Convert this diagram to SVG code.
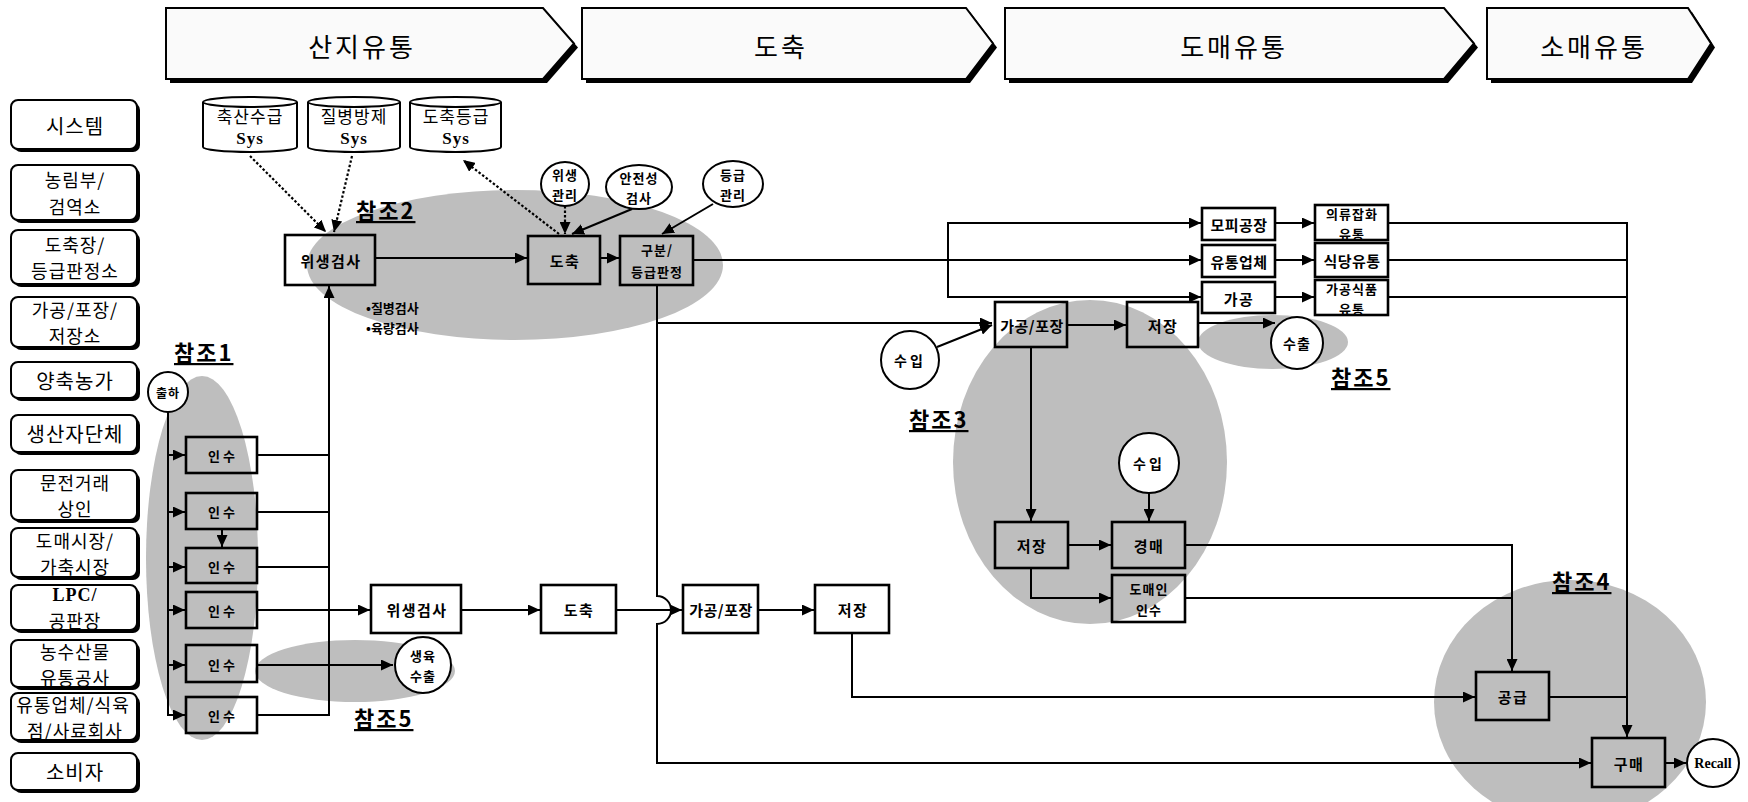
<svg xmlns="http://www.w3.org/2000/svg" width="1748" height="802" viewBox="0 0 1748 802">
<style>
text{font-family:"Noto Sans CJK KR","Noto Sans",sans-serif;text-anchor:middle;dominant-baseline:central;fill:#000}
.chev{fill:#fafafa;stroke:#000;stroke-width:2}
.shd{fill:#000}
.htx{font-size:26px;letter-spacing:3px}
.lbox{fill:#fff;stroke:#000;stroke-width:2}
.ltx{font-size:20px;letter-spacing:1px}
.l2{font-size:18px;letter-spacing:1px}
.ser{font-family:"Liberation Serif",serif;font-weight:bold}
.box{fill:none;stroke:#000;stroke-width:2.6}
.btx{font-size:15px;font-weight:bold;letter-spacing:1.5px}
.b2{font-size:13px;font-weight:bold;letter-spacing:1px}
.stx{font-size:13px;font-weight:bold;letter-spacing:3px}
.circ{fill:#fff;stroke:#000;stroke-width:2}
.cyl{fill:#fff;stroke:#000;stroke-width:2}
.ctx{font-size:14px;font-weight:bold;letter-spacing:1px}
.c2{font-size:13px;font-weight:bold;letter-spacing:1px}
.cytx{font-size:17px;letter-spacing:1px}
.ref{font-size:22px;font-weight:bold;text-decoration:underline;letter-spacing:2px;text-anchor:start;dominant-baseline:auto}
.gray{fill:#bebebe}
.ln{fill:none;stroke:#000;stroke-width:2}
.arr{marker-end:url(#ah)}
.dot{stroke-dasharray:2.5 2;stroke-width:2.2}
.bul{font-size:13px;font-weight:bold;text-anchor:start}
</style>
<defs>
<marker id="ah" markerUnits="userSpaceOnUse" markerWidth="12" markerHeight="11" refX="12" refY="5.5" orient="auto">
<path d="M0,0 L12,5.5 L0,11 Z" fill="#000"/>
</marker>
</defs>

<g id="highlights">
<ellipse class="gray" cx="515" cy="265" rx="208" ry="75"/>
<ellipse class="gray" cx="202" cy="558" rx="56" ry="182"/>
<ellipse class="gray" cx="355" cy="671" rx="100" ry="31"/>
<ellipse class="gray" cx="1090" cy="462" rx="137" ry="162"/>
<ellipse class="gray" cx="1273" cy="342" rx="75" ry="27"/>
<ellipse class="gray" cx="1570" cy="702" rx="136" ry="122"/>
</g>

<g id="stages">
<g id="stage-sanji">
<path class="shd" d="M170,12 H547 L578,47.5 L547,83 H170 Z"/>
<path class="chev" d="M166,8 H543 L574,43.5 L543,79 H166 Z"/>
<text class="htx" x="362" y="45">산지유통</text>
</g>
<g id="stage-dochuk">
<path class="shd" d="M586,12 H970 L997,47.5 L970,83 H586 Z"/>
<path class="chev" d="M582,8 H966 L993,43.5 L966,79 H582 Z"/>
<text class="htx" x="781" y="45">도축</text>
</g>
<g id="stage-domae">
<path class="shd" d="M1009,12 H1448 L1478,47.5 L1448,83 H1009 Z"/>
<path class="chev" d="M1005,8 H1444 L1474,43.5 L1444,79 H1005 Z"/>
<text class="htx" x="1234" y="45">도매유통</text>
</g>
<g id="stage-somae">
<path class="shd" d="M1491,12 H1692 L1715,47.5 L1692,83 H1491 Z"/>
<path class="chev" d="M1487,8 H1688 L1711,43.5 L1688,79 H1487 Z"/>
<text class="htx" x="1594" y="45">소매유통</text>
</g>
</g>

<g id="actors">
<g id="actor-system"><rect class="shd" x="14" y="103" width="126" height="49" rx="7"/><rect class="lbox" x="11" y="100" width="126" height="49" rx="7"/><text class="ltx" x="75" y="125">시스템</text></g>
<g id="actor-ministry"><rect class="shd" x="14" y="168" width="126" height="55" rx="7"/><rect class="lbox" x="11" y="165" width="126" height="55" rx="7"/><text class="l2" x="75" y="179">농림부/</text><text class="l2" x="75" y="206">검역소</text></g>
<g id="actor-slaughterhouse"><rect class="shd" x="14" y="233" width="126" height="54" rx="7"/><rect class="lbox" x="11" y="230" width="126" height="54" rx="7"/><text class="l2" x="75" y="244">도축장/</text><text class="l2" x="75" y="270">등급판정소</text></g>
<g id="actor-processing"><rect class="shd" x="14" y="300" width="126" height="50" rx="7"/><rect class="lbox" x="11" y="297" width="126" height="50" rx="7"/><text class="l2" x="75" y="309">가공/포장/</text><text class="l2" x="75" y="335">저장소</text></g>
<g id="actor-farm"><rect class="shd" x="14" y="365" width="126" height="36" rx="7"/><rect class="lbox" x="11" y="362" width="126" height="36" rx="7"/><text class="ltx" x="75" y="380">양축농가</text></g>
<g id="actor-producer"><rect class="shd" x="14" y="418" width="126" height="37" rx="7"/><rect class="lbox" x="11" y="415" width="126" height="37" rx="7"/><text class="ltx" x="75" y="433">생산자단체</text></g>
<g id="actor-dealer"><rect class="shd" x="14" y="473" width="126" height="50" rx="7"/><rect class="lbox" x="11" y="470" width="126" height="50" rx="7"/><text class="l2" x="75" y="482">문전거래</text><text class="l2" x="75" y="508">상인</text></g>
<g id="actor-market"><rect class="shd" x="14" y="531" width="126" height="49" rx="7"/><rect class="lbox" x="11" y="528" width="126" height="49" rx="7"/><text class="l2" x="75" y="539.5">도매시장/</text><text class="l2" x="75" y="565.5">가축시장</text></g>
<g id="actor-lpc"><rect class="shd" x="14" y="588" width="126" height="45" rx="7"/><rect class="lbox" x="11" y="585" width="126" height="45" rx="7"/><text class="l2 ser" x="75" y="595">LPC/</text><text class="l2" x="75" y="620">공판장</text></g>
<g id="actor-corp"><rect class="shd" x="14" y="643" width="126" height="47" rx="7"/><rect class="lbox" x="11" y="640" width="126" height="47" rx="7"/><text class="l2" x="75" y="650.5">농수산물</text><text class="l2" x="75" y="676.5">유통공사</text></g>
<g id="actor-retailer"><rect class="shd" x="14" y="696" width="126" height="47" rx="7"/><rect class="lbox" x="11" y="693" width="126" height="47" rx="7"/><text class="l2" x="73" y="703.5">유통업체/식육</text><text class="l2" x="75" y="729.5">점/사료회사</text></g>
<g id="actor-consumer"><rect class="shd" x="14" y="756" width="126" height="37" rx="7"/><rect class="lbox" x="11" y="753" width="126" height="37" rx="7"/><text class="ltx" x="75" y="771">소비자</text></g>
</g>

<g id="connectors">
<path class="ln dot arr" d="M250,156 L326,232"/>
<path class="ln dot arr" d="M352,156 L334,232"/>
<path class="ln dot arr" d="M559,234 L463,160"/>
<path class="ln dot arr" d="M565,206 L565,234"/>
<path class="ln arr" d="M632,209 L572,234"/>
<path class="ln arr" d="M713,204 L662,234"/>
<path class="ln arr" d="M375,258 H527"/>
<path class="ln arr" d="M600,258 H619"/>
<path class="ln arr" d="M693,260 H1201"/>
<path class="ln arr" d="M948,260 V223 H1201"/>
<path class="ln arr" d="M948,260 V297 H1201"/>
<path class="ln arr" d="M1275,223 H1314"/>
<path class="ln arr" d="M1275,260 H1314"/>
<path class="ln arr" d="M1275,297 H1314"/>
<path class="ln arr" d="M1388,223 H1627 V737"/>
<path class="ln" d="M1388,260 H1627"/>
<path class="ln" d="M1388,297 H1627"/>
<path class="ln arr" d="M657,285 V596 A14,14 0 0 1 657,624 V763 H1591"/>
<path class="ln arr" d="M657,323 H992"/>
<path class="ln arr" d="M168,412 V715 H185"/>
<path class="ln arr" d="M168,455 H185"/>
<path class="ln arr" d="M168,512 H185"/>
<path class="ln arr" d="M168,567 H185"/>
<path class="ln arr" d="M168,610 H185"/>
<path class="ln arr" d="M168,665 H185"/>
<path class="ln arr" d="M222,529 V547"/>
<path class="ln" d="M257,455 H329"/>
<path class="ln" d="M257,512 H329"/>
<path class="ln" d="M257,567 H329"/>
<path class="ln arr" d="M257,715 H329 V286"/>
<path class="ln arr" d="M257,610 H370"/>
<path class="ln arr" d="M257,665 H393"/>
<path class="ln arr" d="M461,610 H540"/>
<path class="ln arr" d="M616,610 H682"/>
<path class="ln arr" d="M758,610 H814"/>
<path class="ln arr" d="M852,633 V697 H1475"/>
<path class="ln arr" d="M937,347 L992,325"/>
<path class="ln arr" d="M1067,325 H1126"/>
<path class="ln arr" d="M1198,323 H1275"/>
<path class="ln arr" d="M1031,347 V521"/>
<path class="ln arr" d="M1149,493 V521"/>
<path class="ln arr" d="M1068,545 H1111"/>
<path class="ln arr" d="M1031,568 V598 H1111"/>
<path class="ln arr" d="M1185,545 H1512 V671"/>
<path class="ln" d="M1185,598 H1512"/>
<path class="ln" d="M1549,697 H1627"/>
<path class="ln arr" d="M1665,763 H1686"/>
</g>

<g id="systems">
<g id="sys-supply">
<path class="cyl" d="M203,102 A47,5 0 0 1 297,102 V147 A47,5 0 0 1 203,147 Z M203,102 A47,5 0 0 0 297,102"/>
<text class="cytx" x="250" y="115">축산수급</text><text class="cytx ser" x="250" y="138">Sys</text>
</g>
<g id="sys-disease">
<path class="cyl" d="M308,102 A46,5 0 0 1 400,102 V147 A46,5 0 0 1 308,147 Z M308,102 A46,5 0 0 0 400,102"/>
<text class="cytx" x="354" y="115">질병방제</text><text class="cytx ser" x="354" y="138">Sys</text>
</g>
<g id="sys-grade">
<path class="cyl" d="M410,102 A45.5,5 0 0 1 501,102 V147 A45.5,5 0 0 1 410,147 Z M410,102 A45.5,5 0 0 0 501,102"/>
<text class="cytx" x="456" y="115">도축등급</text><text class="cytx ser" x="456" y="138">Sys</text>
</g>
</g>

<g id="labels">
<text class="ref" x="174" y="361">참조1</text>
<text class="ref" x="356" y="219">참조2</text>
<text class="ref" x="909" y="428">참조3</text>
<text class="ref" x="1552" y="590">참조4</text>
<text class="ref" x="354" y="727">참조5</text>
<text class="ref" x="1331" y="386">참조5</text>
<text class="bul" x="366" y="307">•질병검사</text>
<text class="bul" x="366" y="327">•육량검사</text>
</g>

<g id="nodes">
<g id="n-hygiene-top"><rect class="box" x="285" y="235" width="90" height="50"/><text class="btx" x="331" y="260">위생검사</text></g>
<g id="n-slaughter-top"><rect class="box" x="528" y="236" width="72" height="48"/><text class="btx" x="565" y="260">도축</text></g>
<g id="n-grade"><rect class="box" x="620" y="236" width="73" height="49"/><text class="b2" x="657" y="249">구분/</text><text class="b2" x="657" y="271">등급판정</text></g>
<g id="n-c-hyg"><ellipse class="circ" cx="565" cy="184" rx="24" ry="22"/><text class="c2" x="565" y="174.5">위생</text><text class="c2" x="565" y="194">관리</text></g>
<g id="n-c-safe"><ellipse class="circ" cx="639" cy="187" rx="33" ry="22"/><text class="c2" x="639" y="177.5">안전성</text><text class="c2" x="639" y="197">검사</text></g>
<g id="n-c-grade"><ellipse class="circ" cx="733" cy="184" rx="30" ry="23"/><text class="c2" x="733" y="174.5">등급</text><text class="c2" x="733" y="194">관리</text></g>

<g id="n-ship"><circle class="circ" cx="168" cy="392" r="20"/><text class="ctx" x="168" y="392" style="font-size:12px">출하</text></g>
<g id="n-take1"><rect class="box" x="186" y="437" width="71" height="36"/><text class="stx" x="223" y="455">인수</text></g>
<g id="n-take2"><rect class="box" x="186" y="493" width="71" height="36"/><text class="stx" x="223" y="511">인수</text></g>
<g id="n-take3"><rect class="box" x="186" y="548" width="71" height="35"/><text class="stx" x="223" y="566">인수</text></g>
<g id="n-take4"><rect class="box" x="186" y="592" width="71" height="36"/><text class="stx" x="223" y="610">인수</text></g>
<g id="n-take5"><rect class="box" x="186" y="645" width="71" height="37"/><text class="stx" x="223" y="664">인수</text></g>
<g id="n-take6"><rect class="box" x="186" y="697" width="71" height="36"/><text class="stx" x="223" y="715">인수</text></g>

<g id="n-hygiene-bot"><rect class="box" x="371" y="585" width="90" height="48"/><text class="btx" x="417" y="609">위생검사</text></g>
<g id="n-live-export"><circle class="circ" cx="423" cy="665" r="28"/><text class="c2" x="423" y="655">생육</text><text class="c2" x="423" y="675">수출</text></g>
<g id="n-slaughter-bot"><rect class="box" x="541" y="585" width="75" height="48"/><text class="btx" x="579" y="609">도축</text></g>
<g id="n-pack-bot"><rect class="box" x="683" y="585" width="75" height="48"/><text class="btx" x="721" y="609" style="letter-spacing:0.5px">가공/포장</text></g>
<g id="n-store-bot"><rect class="box" x="815" y="585" width="74" height="48"/><text class="btx" x="853" y="609">저장</text></g>

<g id="n-import1"><circle class="circ" cx="910" cy="360" r="29"/><text class="ctx" x="910" y="360" style="letter-spacing:3px">수입</text></g>
<g id="n-pack-top"><rect class="box" x="995" y="302" width="72" height="45"/><text class="btx" x="1032" y="325" style="letter-spacing:0.5px">가공/포장</text></g>
<g id="n-store-top"><rect class="box" x="1127" y="302" width="71" height="45"/><text class="btx" x="1163" y="325">저장</text></g>
<g id="n-export"><circle class="circ" cx="1297" cy="343" r="26"/><text class="ctx" x="1297" y="343">수출</text></g>
<g id="n-import2"><circle class="circ" cx="1149" cy="463" r="30"/><text class="ctx" x="1149" y="463" style="letter-spacing:3px">수입</text></g>
<g id="n-store-mid"><rect class="box" x="995" y="522" width="73" height="46"/><text class="btx" x="1032" y="545">저장</text></g>
<g id="n-auction"><rect class="box" x="1112" y="522" width="73" height="46"/><text class="btx" x="1149" y="545">경매</text></g>
<g id="n-wholesaler"><rect class="box" x="1112" y="575" width="73" height="47"/><text class="b2" x="1149" y="588">도매인</text><text class="b2" x="1149" y="609">인수</text></g>

<g id="n-leather"><rect class="box" x="1202" y="208" width="73" height="32"/><text class="btx" x="1239" y="224" style="letter-spacing:0.5px">모피공장</text></g>
<g id="n-distrib"><rect class="box" x="1202" y="245" width="73" height="32"/><text class="btx" x="1239" y="261" style="letter-spacing:0.5px">유통업체</text></g>
<g id="n-process"><rect class="box" x="1202" y="282" width="73" height="31"/><text class="btx" x="1239" y="298">가공</text></g>
<g id="n-apparel"><rect class="box" x="1315" y="205" width="73" height="35"/><text class="b2" x="1352" y="213.5">의류잡화</text><text class="b2" x="1352" y="233">유통</text></g>
<g id="n-restaurant"><rect class="box" x="1315" y="243" width="73" height="34"/><text class="btx" x="1352" y="260" style="letter-spacing:0.5px">식당유통</text></g>
<g id="n-food"><rect class="box" x="1315" y="280" width="73" height="35"/><text class="b2" x="1352" y="288.5">가공식품</text><text class="b2" x="1352" y="308">유통</text></g>

<g id="n-supply"><rect class="box" x="1476" y="672" width="73" height="48"/><text class="btx" x="1513" y="696">공급</text></g>
<g id="n-purchase"><rect class="box" x="1592" y="738" width="73" height="49"/><text class="btx" x="1629" y="763">구매</text></g>
<g id="n-recall"><ellipse class="circ" cx="1713" cy="763" rx="26" ry="24"/><text class="ser" x="1713" y="763" style="font-size:14px">Recall</text></g>
</g>
</svg>
